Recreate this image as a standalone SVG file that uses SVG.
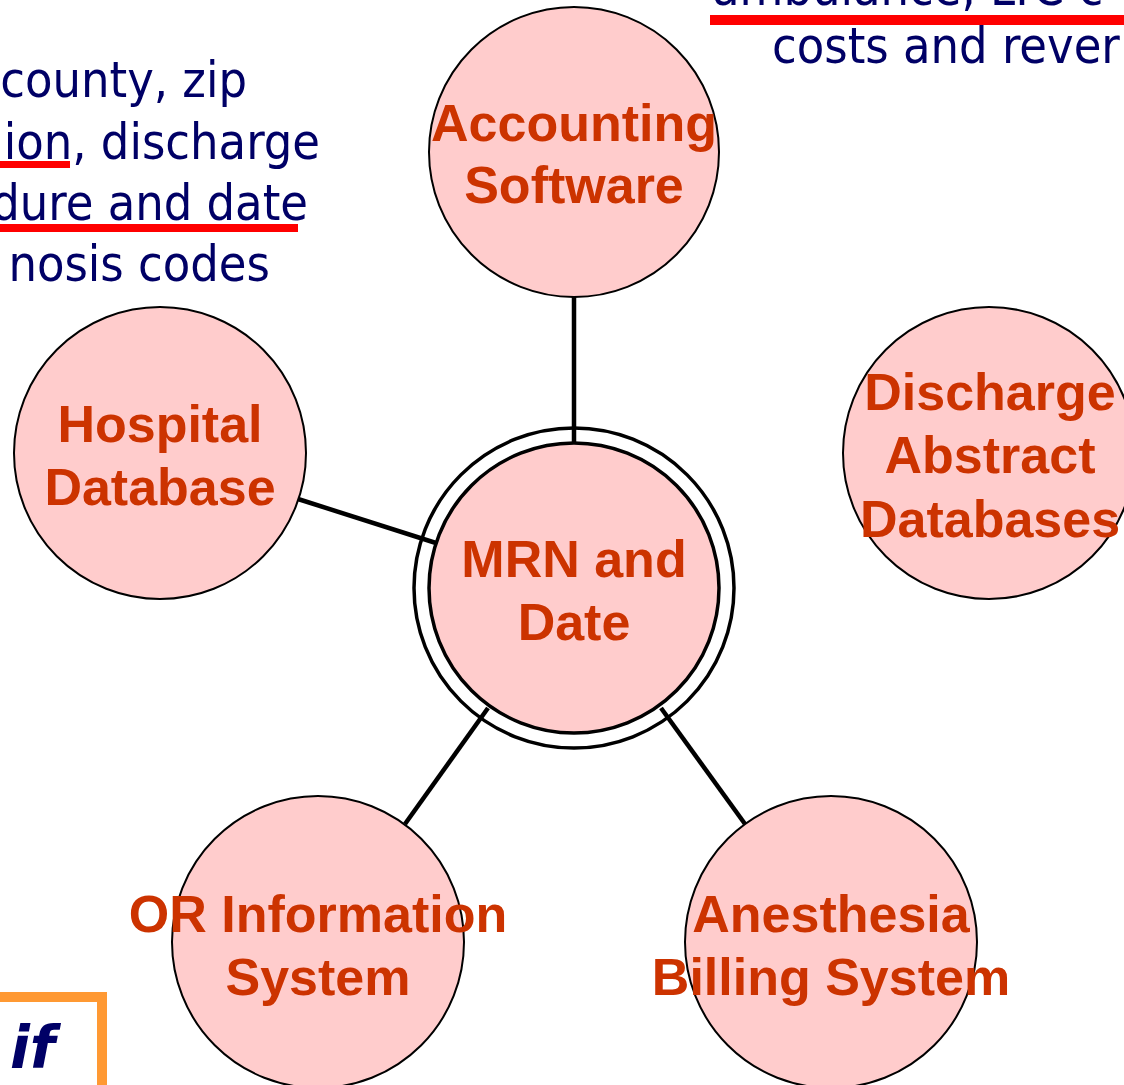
<svg xmlns="http://www.w3.org/2000/svg" width="1124" height="1085" viewBox="0 0 1124 1085">
  <style>
    .node { fill: #FFCCCC; stroke: #000; stroke-width: 2; }
    .lbl { font-family: "Liberation Sans", Arial, sans-serif; font-weight: bold; font-size: 52px; fill: #CC3300; text-anchor: middle; }
    .note { font-family: "DejaVu Sans Condensed", "DejaVu Sans", sans-serif; font-stretch: condensed; font-size: 50px; fill: #000066; }
    .conn { stroke: #000; stroke-width: 4.5; fill: none; }
    .ul { fill: #FF0000; }
  </style>
  <rect x="0" y="0" width="1124" height="1085" fill="#FFFFFF"/>

  <!-- notes -->
  <g id="note-left">
    <text class="note" x="247" y="97" text-anchor="end">county, zip</text>
    <text class="note" x="320" y="159" text-anchor="end">ion, discharge</text>
    <text class="note" x="308" y="220" text-anchor="end">dure and date</text>
    <text class="note" x="270" y="281" text-anchor="end">nosis codes</text>
    <rect class="ul" x="0" y="161" width="70" height="7"/>
    <rect class="ul" x="0" y="224" width="298" height="8"/>
  </g>
  <g id="note-right">
    <text class="note" x="712" y="5">ambulance, LTC c</text>
    <rect class="ul" x="710" y="15" width="414" height="10"/>
    <text class="note" x="772" y="63">costs and rever</text>
  </g>
  <g id="if-box">
    <rect x="-20" y="997" width="122" height="120" fill="none" stroke="#FF9933" stroke-width="10"/>
    <text x="55" y="1068" text-anchor="end" font-family="DejaVu Sans, sans-serif" font-weight="bold" font-style="italic" font-size="58" fill="#000066">if</text>
  </g>

  <!-- connectors -->
  <g id="connectors">
    <line class="conn" x1="574" y1="297" x2="574" y2="443"/>
    <line class="conn" x1="298" y1="499" x2="436" y2="543"/>
    <line class="conn" x1="405" y1="824" x2="488" y2="708"/>
    <line class="conn" x1="745" y1="824" x2="661" y2="708"/>
  </g>

  <!-- nodes -->
  <g id="node-accounting">
    <circle class="node" cx="574" cy="152" r="145"/>
    <text class="lbl" x="574" y="141">Accounting</text>
    <text class="lbl" x="574" y="203">Software</text>
  </g>
  <g id="node-hospital">
    <circle class="node" cx="160" cy="453" r="146"/>
    <text class="lbl" x="160" y="442">Hospital</text>
    <text class="lbl" x="160" y="505">Database</text>
  </g>
  <g id="node-discharge">
    <circle class="node" cx="989" cy="453" r="146"/>
    <text class="lbl" x="990" y="410">Discharge</text>
    <text class="lbl" x="990" y="473">Abstract</text>
    <text class="lbl" x="990" y="537">Databases</text>
  </g>
  <g id="node-center">
    <circle cx="574" cy="588" r="160" fill="none" stroke="#000" stroke-width="3.5"/>
    <circle cx="574" cy="588" r="145" fill="#FFCCCC" stroke="#000" stroke-width="3.5"/>
    <text class="lbl" x="574" y="577">MRN and</text>
    <text class="lbl" x="574" y="640">Date</text>
  </g>
  <g id="node-or">
    <circle class="node" cx="318" cy="942" r="146"/>
    <text class="lbl" x="318" y="932">OR Information</text>
    <text class="lbl" x="318" y="995">System</text>
  </g>
  <g id="node-anesthesia">
    <circle class="node" cx="831" cy="942" r="146"/>
    <text class="lbl" x="831" y="932">Anesthesia</text>
    <text class="lbl" x="831" y="995">Billing System</text>
  </g>
</svg>
